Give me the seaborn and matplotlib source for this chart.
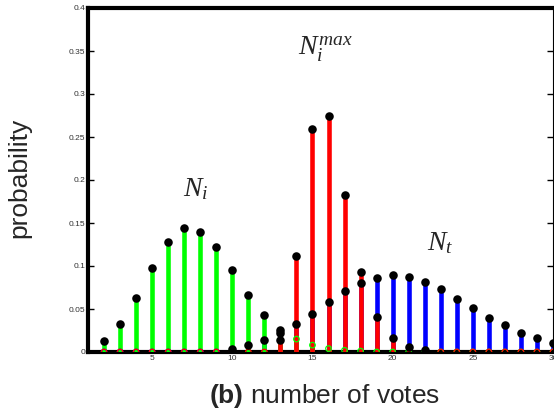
import numpy as np
import pandas as pd
import matplotlib
matplotlib.use("Agg")
import matplotlib.pyplot as plt
import seaborn as sns

# values, x = number of votes
votes = list(range(2, 31))
p_initial = [0.013, 0.033, 0.063, 0.098, 0.128, 0.144, 0.140, 0.122, 0.095,
             0.066, 0.043, 0.026, 0.015, 0.008, 0.004, 0.002, 0.001,
             0, 0, 0, 0, 0, 0, 0, 0, 0, 0, 0, 0]
p_max = [0, 0, 0, 0, 0, 0, 0, 0, 0, 0, 0,
         0.014, 0.112, 0.259, 0.274, 0.182, 0.093, 0.041, 0.016, 0.006, 0.002,
         0, 0, 0, 0, 0, 0, 0, 0]
p_total = [0, 0, 0, 0, 0, 0, 0, 0,
           0.0035, 0.008, 0.014, 0.022, 0.032, 0.044, 0.058, 0.071, 0.080,
           0.086, 0.0895, 0.087, 0.081, 0.073, 0.062, 0.051, 0.040, 0.031,
           0.022, 0.016, 0.011]
series_names = ["total", "initial", "max"]
series_colors = {"total": "#0000ff", "initial": "#00ff00", "max": "#ff0000"}
green_black_last = 13   # green tail beyond this is drawn with hollow markers

y_ticks = [0, 0.05, 0.1, 0.15, 0.2, 0.25, 0.3, 0.35, 0.4]
y_tick_labels = ["0", "0.05", "0.1", "0.15", "0.2", "0.25", "0.3", "0.35", "0.4"]
x_ticks = [5, 10, 15, 20, 25, 30]


def main():
    df = pd.DataFrame({
        "votes": votes * 3,
        "prob": p_total + p_initial + p_max,
        "series": np.repeat(series_names, len(votes)),
    })
    df["black"] = (df["prob"] >= 0.002) & ~((df["series"] == "initial") & (df["votes"] > green_black_last))

    sns.set_theme(style="white")
    plt.rcParams.update({
        "font.family": ["Liberation Sans", "DejaVu Sans"],
        "mathtext.fontset": "custom",
        "mathtext.it": "Liberation Serif:italic",
        "mathtext.rm": "Liberation Serif",
        "mathtext.bf": "Liberation Sans:bold",
    })

    fig = plt.figure(figsize=(5.54, 4.16), dpi=100)
    ax = fig.add_axes([88 / 554, 64 / 416, 465 / 554, 344 / 416])

    # stems: blue underneath, then green, then red
    for z, name in enumerate(series_names):
        sub = df[df["series"] == name]
        ax.vlines(sub["votes"], 0, sub["prob"], color=series_colors[name],
                  linewidth=3.3, zorder=2 + z)

    # small hollow markers for zero / tail values
    hollow = df[~df["black"]]
    sns.scatterplot(data=hollow, x="votes", y="prob", hue="series",
                    palette=series_colors, hue_order=series_names,
                    marker="o", s=16, facecolor="none", linewidth=0.9,
                    legend=False, ax=ax, zorder=6)
    for coll in ax.collections[-1:]:
        coll.set_facecolor("none")
        coll.set_edgecolor([series_colors[s] for s in hollow["series"]])

    # black dots on top of the stems
    sns.scatterplot(data=df[df["black"]], x="votes", y="prob", color="black",
                    s=38, linewidth=0, legend=False, ax=ax, zorder=7)

    ax.set_xlim(1, 30)
    ax.set_ylim(0, 0.4)
    ax.set_xticks(x_ticks)
    ax.set_xticklabels([str(t) for t in x_ticks])
    ax.set_yticks(y_ticks)
    ax.set_yticklabels(y_tick_labels)
    ax.set_xlabel("")
    ax.set_ylabel("")
    ax.tick_params(direction="in", length=4, width=1, labelsize=6,
                   labelcolor="#333333", color="black", pad=2,
                   right=True, left=True, bottom=True)

    for side in ["left", "bottom", "top"]:
        ax.spines[side].set_linewidth(3.0)
        ax.spines[side].set_color("black")
    ax.spines["right"].set_linewidth(0.8)
    ax.spines["right"].set_color("black")

    ax.text(7.7, 0.19, r"$N_i$", fontsize=20, ha="center", va="center")
    ax.text(15.8, 0.352, r"$N_i^{max}$", fontsize=20, ha="center", va="center")
    ax.text(23.0, 0.127, r"$N_t$", fontsize=20, ha="center", va="center")

    fig.text(19 / 554, 1 - 178 / 416, "probability", rotation=90,
             fontsize=19, ha="center", va="center")
    fig.text(325 / 554, 1 - 396 / 416, r"$\mathbf{(b)}$ number of votes",
             fontsize=19, ha="center", va="center")

    fig.savefig("out.png", dpi=100)
    plt.close(fig)


if __name__ == "__main__":
    main()
